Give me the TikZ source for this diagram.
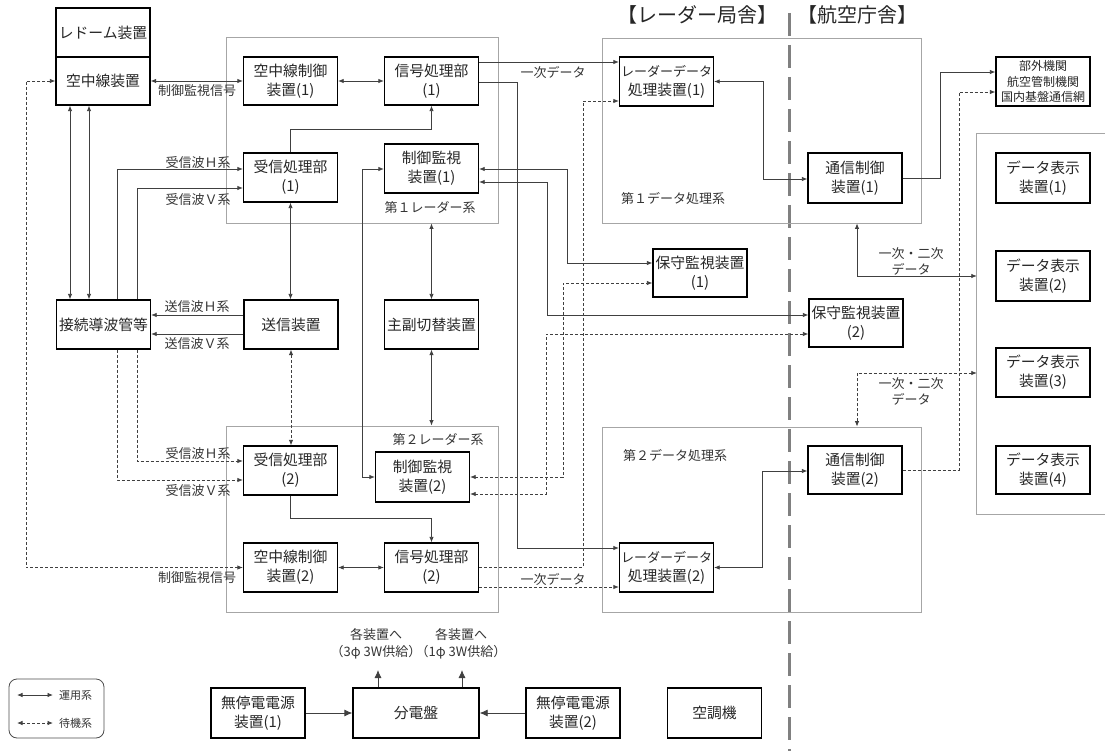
\documentclass[tikz,border=0pt]{standalone}
\usepackage{fontspec}
\setmainfont{Noto Sans CJK JP}
\usetikzlibrary{arrows.meta}
\tikzset{
  box/.style={draw=black, line width=1.3pt, minimum width=94pt, minimum height=49pt, inner sep=0pt, align=center, font=\fontsize{14.8}{19}\selectfont, text=black!85},
  grp/.style={draw=black!35, line width=0.9pt, inner sep=0pt},
  con/.style={draw=black!75, line width=0.8pt},
  ar/.style={-{Latex[length=5.5pt,width=4.5pt]}},
  dar/.style={{Latex[length=5.5pt,width=4.5pt]}-{Latex[length=5.5pt,width=4.5pt]}},
  bigar/.style={-{Latex[length=8pt,width=7pt]}},
  dsh/.style={dash pattern=on 3pt off 2pt},
  lbl/.style={font=\fontsize{13}{16}\selectfont, text=black!80, inner sep=0pt, align=center},
  ttl/.style={font=\fontsize{20}{24}\selectfont, text=black!85, inner sep=0pt}
}
\begin{document}
\begin{tikzpicture}[x=1pt,y=-1pt]
\useasboundingbox (0,0) rectangle (1105,751);
% divider
\draw[black!50, line width=3pt, dash pattern=on 23pt off 9pt] (789,13) -- (789,751);
% titles
\node[ttl] (t1) at (697,15) {【レーダー局舎】};
\node[ttl] (t2) at (857,15) {【航空庁舎】};
% groups
\node[grp, minimum width=272pt, minimum height=186pt] (g1) at (362,130) {};
\node[grp, minimum width=272pt, minimum height=186pt] (g2) at (362,519) {};
\node[grp, minimum width=319pt, minimum height=185pt] (d1) at (761.5,130.5) {};
\node[grp, minimum width=319pt, minimum height=185pt] (d2) at (761.5,519.5) {};
\node[inner sep=0pt, minimum width=128pt, minimum height=380pt] (disp) at (1041,324) {};
\draw[grp] (disp.north east) -- (disp.north west) -- (disp.south west) -- (disp.south east);
\node[lbl] (l1) at (430,208) {第１レーダー系};
\node[lbl] (l2) at (438,440) {第２レーダー系};
\node[lbl] (l3) at (673,198) {第１データ処理系};
\node[lbl] (l4) at (675,455) {第２データ処理系};
% boxes
\node[box] (rad) at (103,32.5) {レドーム装置};
\node[box, minimum height=48pt] (ant) at (103,81) {空中線装置};
\node[box] (conn) at (103.5,324.5) {接続導波管等};
\node[box] (tx) at (291,324.5) {送信装置};
\node[box] (sw) at (431.5,324.5) {主副切替装置};
\node[box, minimum height=48pt] (acu1) at (290.5,81) {空中線制御\\装置(1)};
\node[box, minimum height=48pt] (sp1) at (431.5,81) {信号処理部\\(1)};
\node[box] (rx1) at (290.5,177.5) {受信処理部\\(1)};
\node[box] (cm1) at (431.5,168.5) {制御監視\\装置(1)};
\node[box] (rdp1) at (666.5,81.5) {{\fontsize{13}{19}\selectfont レーダーデータ}\\処理装置(1)};
\node[box, minimum height=50pt] (cc1) at (855,178) {通信制御\\装置(1)};
\node[box, font=\fontsize{12}{15.5}\selectfont] (ext) at (1043,81.5) {部外機関\\航空管制機関\\国内基盤通信網};
\node[box, minimum height=50pt] (dd1) at (1043,178) {データ表示\\装置(1)};
\node[box, minimum height=50pt] (dd2) at (1043,276) {データ表示\\装置(2)};
\node[box] (dd3) at (1043,372.5) {データ表示\\装置(3)};
\node[box, minimum height=48pt] (dd4) at (1043,470) {データ表示\\装置(4)};
\node[box, minimum height=48pt] (mm1) at (700,273) {保守監視装置\\(1)};
\node[box, minimum height=48pt] (mm2) at (856,323) {保守監視装置\\(2)};
\node[box] (rx2) at (290.5,470.5) {受信処理部\\(2)};
\node[box, minimum height=50pt] (cm2) at (422.5,477) {制御監視\\装置(2)};
\node[box] (acu2) at (290.5,567.5) {空中線制御\\装置(2)};
\node[box] (sp2) at (431.5,567.5) {信号処理部\\(2)};
\node[box] (rdp2) at (666.5,567.5) {{\fontsize{13}{19}\selectfont レーダーデータ}\\処理装置(2)};
\node[box, minimum height=48pt] (cc2) at (855,470) {通信制御\\装置(2)};
\node[box, minimum height=50pt] (ups1) at (258,713) {無停電電源\\装置(1)};
\node[box, minimum width=126pt, minimum height=50pt] (pdb) at (416,713) {分電盤};
\node[box, minimum height=50pt] (ups2) at (573,713) {無停電電源\\装置(2)};
\node[box, minimum height=50pt] (ac) at (714.5,713) {空調機};
% labels
\node[lbl] (s1) at (197,91) {制御監視信号};
\node[lbl] (s2) at (197,578) {制御監視信号};
\node[lbl] (h1) at (198,163) {受信波Ｈ系};
\node[lbl] (v1) at (198,200) {受信波Ｖ系};
\node[lbl] (h2) at (198,454) {受信波Ｈ系};
\node[lbl] (v2) at (198,491) {受信波Ｖ系};
\node[lbl] (th) at (197,307) {送信波Ｈ系};
\node[lbl] (tv) at (197,344) {送信波Ｖ系};
\node[lbl] (p1) at (553,72) {一次データ};
\node[lbl] (p2) at (553,579) {一次データ};
\node[lbl] (q1) at (911,261) {一次・二次\\データ};
\node[lbl] (q2) at (911,391) {一次・二次\\データ};
\node[lbl, font=\fontsize{13}{17}\selectfont] (e1) at (376,643.5) {各装置へ\\（3φ 3W供給）};
\node[lbl, font=\fontsize{13}{17}\selectfont] (e2) at (461,643.5) {各装置へ\\（1φ 3W供給）};
% connectors
\draw[con,dar] (ant.east) -- (acu1.west);
\draw[con,dar] (acu1.east) -- (sp1.west);
\draw[con,ar] (rx1.north) -- (rx1.north |- 0,129) -- (sp1.south |- 0,129) -- (sp1.south);
\draw[con,dar] (70,0 |- ant.south) -- (70,0 |- conn.north);
\draw[con,dar] (89,0 |- ant.south) -- (89,0 |- conn.north);
\draw[con,ar] (117,0 |- conn.north) |- (rx1.west |- 0,169);
\draw[con,ar] (137,0 |- conn.north) |- (rx1.west |- 0,188);
\draw[con,ar] (tx.west |- 0,315) -- (conn.east |- 0,315);
\draw[con,ar] (tx.west |- 0,334) -- (conn.east |- 0,334);
\draw[con,dar] (rx1.south) -- (rx1.south |- tx.north);
\draw[con,dsh,dar] (tx.south) -- (tx.south |- rx2.north);
\draw[con,ar] (rx2.south) -- (rx2.south |- 0,518) -- (sp2.north |- 0,518) -- (sp2.north);
\draw[con,dsh,ar] (137,0 |- conn.south) |- (rx2.west |- 0,461);
\draw[con,dsh,ar] (117,0 |- conn.south) |- (rx2.west |- 0,480);
\draw[con,dsh,dar] (ant.west) -| (26,0 |- acu2.west) -- (acu2.west);
\draw[con,dar] (acu2.east) -- (sp2.west);
\draw[con,dar] (cm1.west |- 0,169) -| (362,477) -- (cm2.west |- 0,477);
\draw[con,dar] (sw.north) -- (sw.north |- g1.south);
\draw[con,dar] (sw.south) -- (sw.south |- g2.north);
\draw[con,ar] (sp1.east |- 0,62) -- (rdp1.west |- 0,62);
\draw[con,ar] (sp1.east |- 0,82) -| (517,548) -- (rdp2.west |- 0,548);
\draw[con,dar] (cm1.east |- 0,169) -| (567,263) -- (mm1.west |- 0,263);
\draw[con,dar] (cm1.east |- 0,182) -| (547,315) -- (mm2.west |- 0,315);
\draw[con,dsh,dar] (cm2.east |- 0,477) -| (563,283) -- (mm1.west |- 0,283);
\draw[con,dsh,dar] (cm2.east |- 0,494) -| (546,334) -- (mm2.west |- 0,334);
\draw[con,dsh,ar] (sp2.east |- 0,567) -| (583,101) -- (rdp1.west |- 0,101);
\draw[con,dsh,ar] (sp2.east |- 0,587) -- (rdp2.west |- 0,587);
\draw[con,dar] (rdp1.east) -| (763,179) -- (cc1.west |- 0,179);
\draw[con,dar] (rdp2.east) -| (762,471) -- (cc2.west |- 0,471);
\draw[con,ar] (cc1.east) -| (940,72) -- (ext.west |- 0,72);
\draw[con,dsh,ar] (cc2.east) -| (959,92) -- (ext.west |- 0,92);
\draw[con,dar] (857,0 |- d1.south) |- (disp.west |- 0,276);
\draw[con,dsh,dar] (857,0 |- d2.north) |- (disp.west |- 0,373);
% power
\coordinate (u1) at (378,670);
\coordinate (u2) at (462,670);
\draw[con,bigar] (ups1.east) -- (pdb.west);
\draw[con,bigar] (ups2.west) -- (pdb.east);
\draw[con,bigar] (u1 |- pdb.north) -- (u1);
\draw[con,bigar] (u2 |- pdb.north) -- (u2);
% legend
\node[draw=black!70, line width=0.8pt, rounded corners=8pt, minimum width=95pt, minimum height=59pt] (leg) at (56.5,708.5) {};
\coordinate (la) at (17,695); \coordinate (lb) at (53,695);
\coordinate (lc) at (17,723); \coordinate (ld) at (53,723);
\draw[con,dar] (la) -- (lb);
\draw[con,dsh,dar] (lc) -- (ld);
\node[lbl, font=\fontsize{11}{13}\selectfont, anchor=west] (lt1) at (59,695) {運用系};
\node[lbl, font=\fontsize{11}{13}\selectfont, anchor=west] (lt2) at (59,723) {待機系};
\end{tikzpicture}
\end{document}
